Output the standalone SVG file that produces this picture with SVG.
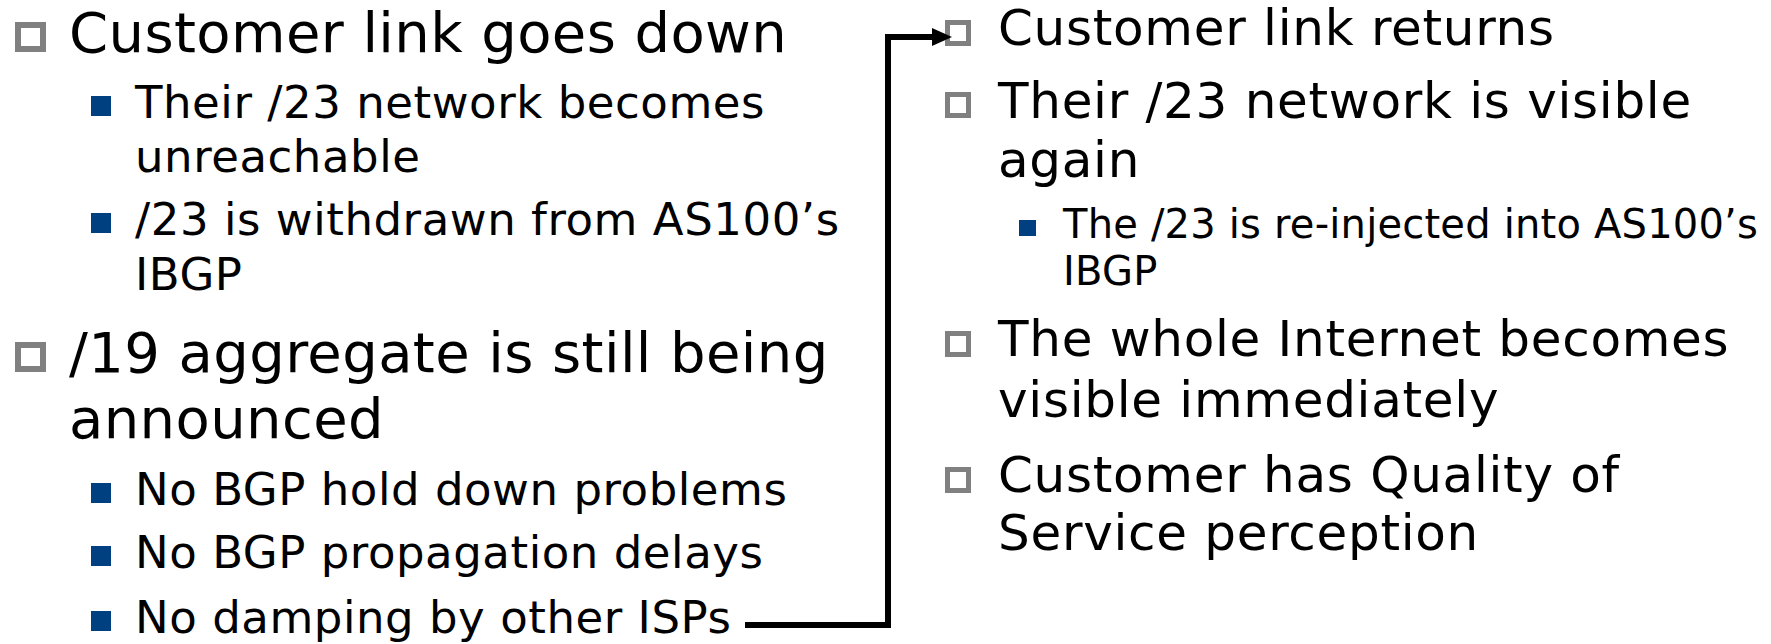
<svg xmlns="http://www.w3.org/2000/svg" width="1771" height="644" viewBox="0 0 1771 644">
<style>
text{font-family:"DejaVu Sans",Verdana,sans-serif;fill:#000}
.t1{font-size:56px;letter-spacing:0.4px}
.s1{font-size:45px;letter-spacing:0.55px}
.t2{font-size:50px;letter-spacing:0.7px}
.s2{font-size:40px;letter-spacing:0.2px}
.hb{fill:#fff;stroke:#808080}
.sb{fill:#004080}
.conn{fill:none;stroke:#000;stroke-width:6}
</style>
<defs>
<marker id="arr" markerUnits="userSpaceOnUse" markerWidth="20" markerHeight="18" refX="4" refY="9" orient="auto">
<path d="M0,0 L20,9 L0,18 Z" fill="#000"/>
</marker>
</defs>
<rect width="1771" height="644" fill="#fff"/>
<g id="left-1">
<rect class="hb" x="18" y="25" width="25" height="24" stroke-width="6"/>
<text class="t1" x="69" y="52">Customer link goes down</text>
</g>
<g id="left-1a">
<rect class="sb" x="91" y="96" width="20" height="20"/>
<text class="s1" x="135" y="118">Their /23 network becomes</text>
<text class="s1" x="135" y="172">unreachable</text>
</g>
<g id="left-1b">
<rect class="sb" x="91" y="213" width="20" height="20"/>
<text class="s1" x="135" y="235">/23 is withdrawn from AS100’s</text>
<text class="s1" x="135" y="290">IBGP</text>
</g>
<g id="left-2">
<rect class="hb" x="18" y="345" width="25" height="24" stroke-width="6"/>
<text class="t1" x="69" y="372">/19 aggregate is still being</text>
<text class="t1" x="69" y="438">announced</text>
</g>
<g id="left-2a">
<rect class="sb" x="91" y="483" width="20" height="20"/>
<text class="s1" x="135" y="505">No BGP hold down problems</text>
</g>
<g id="left-2b">
<rect class="sb" x="91" y="546" width="20" height="20"/>
<text class="s1" x="135" y="568">No BGP propagation delays</text>
</g>
<g id="left-2c">
<rect class="sb" x="91" y="611" width="20" height="20"/>
<text class="s1" x="135" y="633">No damping by other ISPs</text>
</g>
<g id="right-1">
<rect class="hb" x="947.500" y="22.500" width="21" height="21" stroke-width="5"/>
<text class="t2" x="998" y="45">Customer link returns</text>
</g>
<g id="right-2">
<rect class="hb" x="947.500" y="94.500" width="21" height="21" stroke-width="5"/>
<text class="t2" x="998" y="118">Their /23 network is visible</text>
<text class="t2" x="998" y="177">again</text>
</g>
<g id="right-2a">
<rect class="sb" x="1019" y="220" width="17" height="16"/>
<text class="s2" x="1063" y="238">The /23 is re-injected into AS100’s</text>
<text class="s2" x="1063" y="285">IBGP</text>
</g>
<g id="right-3">
<rect class="hb" x="947.500" y="333.500" width="21" height="21" stroke-width="5"/>
<text class="t2" x="998" y="356">The whole Internet becomes</text>
<text class="t2" x="998" y="417">visible immediately</text>
</g>
<g id="right-4">
<rect class="hb" x="947.500" y="469.500" width="21" height="21" stroke-width="5"/>
<text class="t2" x="998" y="492">Customer has Quality of</text>
<text class="t2" x="998" y="550">Service perception</text>
</g>
<g id="connectors">
<path class="conn" d="M745,625 H888 V37 H936" marker-end="url(#arr)"/>
</g>
</svg>
